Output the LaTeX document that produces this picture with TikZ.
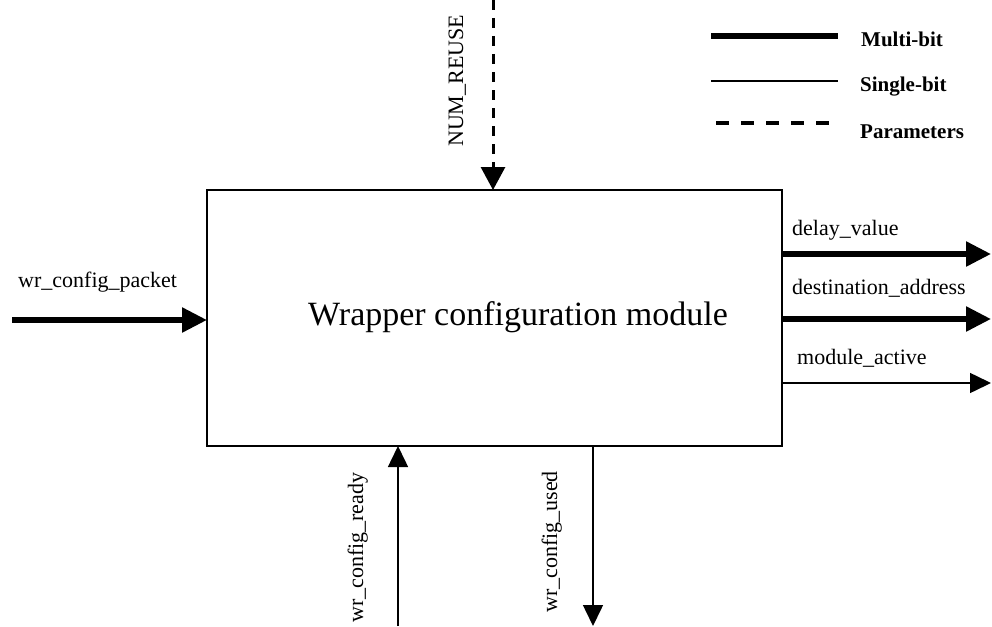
\documentclass[tikz,border=0pt]{standalone}
\usepackage{fontspec}
\setmainfont{Liberation Serif}
\usetikzlibrary{arrows.meta}
\begin{document}
\begin{tikzpicture}[x=1pt,y=-1pt,
  multibit/.style={line width=5.5pt,-{Triangle[length=25pt,width=24pt]}},
  singlebit/.style={line width=1.5pt,-{Triangle[length=21pt,width=20pt]}},
  param/.style={line width=3pt,dash pattern=on 10pt off 8pt,-{Triangle[length=23pt,width=24pt]}},
  lbl/.style={font=\fontsize{22}{26}\selectfont,inner sep=0pt},
  legendlbl/.style={font=\fontsize{21}{25}\selectfont\bfseries,inner sep=0pt,anchor=base west},
  modulebox/.style={draw,line width=2.5pt,minimum width=575pt,minimum height=256pt,inner sep=0pt,outer sep=0pt}
]
\useasboundingbox (0,0) rectangle (992,626);

% module block
\node[modulebox] (box) at (494.5,318) {};
\node[font=\fontsize{34}{40}\selectfont,inner sep=0pt,anchor=base west] (title) at (308,325) {Wrapper configuration module};

% free ends of the signals
\coordinate (pktin) at (12,320);
\coordinate (delayout) at (991,254);
\coordinate (destout) at (991,319);
\coordinate (activeout) at (991,383);
\coordinate (reusein) at (493,0);
\coordinate (readyin) at (398,626);
\coordinate (usedout) at (593,626);

% input
\draw[multibit] (pktin) -- (box.west |- pktin);
\node[lbl,anchor=base west] (pktlbl) at (18,287) {wr\_config\_packet};

% outputs
\draw[multibit] (box.east |- delayout) -- (delayout);
\node[lbl,anchor=base west] (delaylbl) at (792,235) {delay\_value};
\draw[multibit] (box.east |- destout) -- (destout);
\node[lbl,anchor=base west] (destlbl) at (792,294) {destination\_address};
\draw[singlebit] (box.east |- activeout) -- (activeout);
\node[lbl,anchor=base west] (activelbl) at (797,364) {module\_active};

% parameter
\draw[param] (reusein) -- (box.north -| reusein);
\node[lbl,anchor=base west,rotate=90] (reuselbl) at (463,147) {NUM\_REUSE};

% handshake
\draw[singlebit] (readyin) -- (box.south -| readyin);
\node[lbl,anchor=base west,rotate=90] (readylbl) at (363,623) {wr\_config\_ready};
\draw[singlebit] (box.south -| usedout) -- (usedout);
\node[lbl,anchor=base west,rotate=90] (usedlbl) at (557,613) {wr\_config\_used};

% legend
\coordinate (lga) at (711,36);  \coordinate (lgb) at (838,36);
\coordinate (lgc) at (711,81);  \coordinate (lgd) at (838,81);
\coordinate (lge) at (716,123); \coordinate (lgf) at (838,123);
\draw[line width=6pt] (lga) -- (lgb);
\draw[line width=1.5pt] (lgc) -- (lgd);
\draw[line width=3.5pt,dash pattern=on 13pt off 12pt] (lge) -- (lgf);
\node[legendlbl] (lgmulti) at (861,46) {Multi-bit};
\node[legendlbl] (lgsingle) at (860,91) {Single-bit};
\node[legendlbl] (lgparam) at (860,138) {Parameters};
\end{tikzpicture}
\end{document}
